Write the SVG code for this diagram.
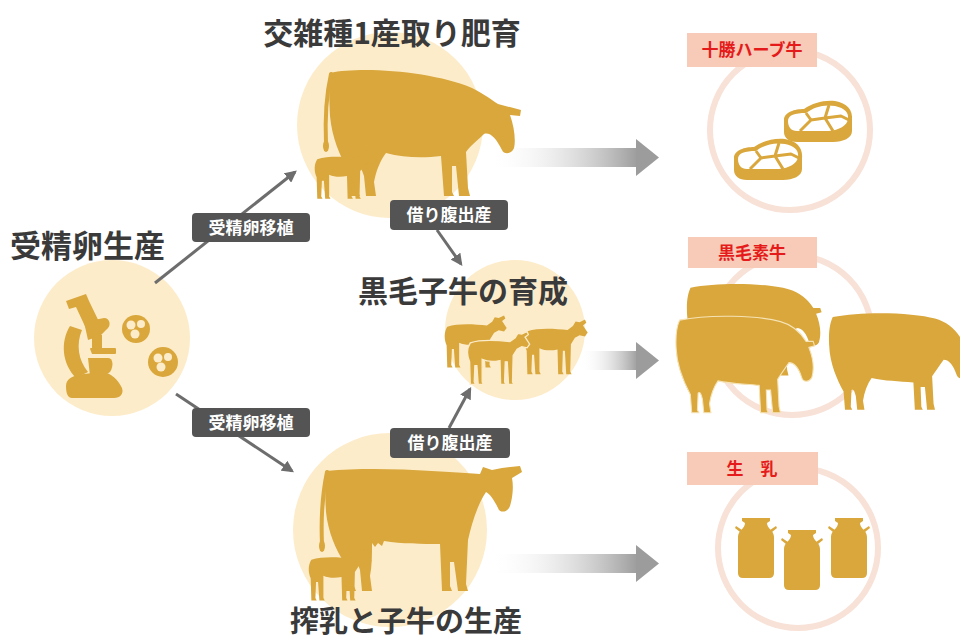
<svg xmlns="http://www.w3.org/2000/svg" width="960" height="642" viewBox="0 0 960 642">
  <style>
    .disc { fill: #fdecca; }
    .ring { fill: none; stroke: #f8e1d7; stroke-width: 6; }
    .gold { fill: #d9a73c; }
    .title { font-family: "Noto Sans CJK JP", "Noto Sans", sans-serif; font-weight: 700; fill: #3a3a3a; }
    .tag rect { fill: #545454; }
    .tag text { font-family: "Noto Sans CJK JP", "Noto Sans", sans-serif; font-weight: 700; font-size: 17px; fill: #ffffff; text-anchor: middle; }
    .prod rect { fill: #f7cbb7; }
    .prod text { font-family: "Noto Sans CJK JP", "Noto Sans", sans-serif; font-weight: 700; font-size: 17px; fill: #e51b1b; text-anchor: middle; }
    .link { stroke: #6d6d6d; stroke-width: 3; fill: none; }
    .tail { fill: none; stroke: #d9a73c; stroke-width: 4; stroke-linecap: round; }
  </style>
  <defs>
    <linearGradient id="shaft" x1="0" y1="0" x2="1" y2="0">
      <stop offset="0" stop-color="#ffffff" stop-opacity="0"/>
      <stop offset="1" stop-color="#9c9c9c"/>
    </linearGradient>
    <marker id="head" viewBox="0 0 10 10" refX="8" refY="5" markerWidth="4" markerHeight="4" orient="auto">
      <path d="M0 0 L10 5 L0 10 Z" fill="#6d6d6d"/>
    </marker>
    <!-- adult cow facing right, head level with the back, 200 x 130 -->
    <g id="cow">
      <path d="M6 7 C40 0 110 6 148 22 C160 28 168 34 174 38 L197 44 L196 50 L186 49 C190 60 192 74 190 82 C188 88 180 89 178 84 C172 72 166 66 160 68 C154 74 146 80 142 86 L144 122 L146 130 L135 130 L132 100 L128 100 L128 126 L130 130 L120 130 L117 90 C100 92 80 92 62 87 C56 95 52 105 50 116 L52 130 L42 130 L40 110 C38 104 37 102 35 103 L34 126 L36 130 L26 130 L24 104 C16 90 8 72 6 50 C5 32 5 18 6 7 Z"/>
      <path d="M7 8 C2 30 1 55 2 78" fill="none" stroke="inherit" stroke-width="4" stroke-linecap="round" style="stroke:#d9a73c"/>
      <ellipse cx="2" cy="80" rx="3" ry="6"/>
    </g>
    <!-- adult cow with head raised, 200 x 125 -->
    <g id="cowUp">
      <path d="M4 5 C60 0 120 6 158 8 L161 1 L170 4 L180 2 L198 0 L200 6 L190 12 C192 22 190 34 188 40 C186 46 178 48 176 42 C172 34 168 28 164 26 C156 38 150 56 146 74 L144 118 L146 125 L136 125 L132 96 L128 96 L128 120 L130 125 L120 125 L118 78 C100 78 80 78 62 75 L60 80 L56 77 L53 81 L50 77 C50 88 50 100 48 110 L50 125 L40 125 L38 104 C36 98 34 96 32 98 L32 120 L34 125 L24 125 L22 96 C14 84 6 66 4 46 C3 30 3 16 4 5 Z"/>
      <path d="M5 6 C0 30 -1 55 0 78" fill="none" style="stroke:#d9a73c" stroke-width="4" stroke-linecap="round"/>
      <ellipse cx="0" cy="80" rx="3" ry="6"/>
    </g>
    <!-- adult cow with lowered head, 200 x 130 -->
    <path id="cowLow" d="M8 8 C50 0 120 2 150 10 C166 14 178 24 186 36 L196 36 L198 42 L190 44 C196 58 198 72 194 84 C190 90 182 90 180 84 C176 72 170 64 162 64 C156 72 150 80 146 86 L148 122 L150 130 L139 130 L136 100 L130 100 L131 126 L133 130 L122 130 L120 94 C100 92 80 92 62 88 C56 96 52 106 50 118 L52 130 L42 130 L40 112 C38 104 36 102 34 104 L33 126 L35 130 L25 130 L23 106 C14 90 4 70 3 45 C2 28 4 16 8 8 Z"/>
    <!-- calf facing right, 100 x 90 -->
    <path id="calf" d="M8 22 C25 16 50 18 68 20 L76 14 L80 7 L86 8 L94 4 L96 9 L91 13 L98 24 L94 30 L86 28 L79 32 L73 42 L72 84 L74 88 L66 88 L64 52 L61 52 L60 84 L62 88 L54 88 L53 50 C44 52 34 52 26 48 L26 84 L28 88 L20 88 L18 58 L15 58 L14 84 L16 88 L8 88 L7 52 C3 42 3 30 8 22 Z"/>
    <!-- milk can, 38 x 60 -->
    <g id="can">
      <path d="M5 0 H33 V3 L30 5 C30 11 37 12 37 19 V55 Q37 60 32 60 H6 Q1 60 1 55 V19 C1 12 8 11 8 5 L5 3 Z"/>
      <path d="M3 14 L-2 10 L-1 8 L5 12 Z M35 14 L40 10 L39 8 L33 12 Z"/>
    </g>
    <!-- steak, 70 x 42 -->
    <g id="steak">
      <path class="gold" d="M1 20 C1 12 12 9 21 9 C30 3 40 0 52 1 C64 3 70 10 69 20 V31 C69 38 60 42 50 42 H14 C6 42 1 38 1 32 Z"/>
      <path d="M5 21 C5 15 12 13 23 13 C31 7 41 4 52 6 C62 8 66 13 65 19 C64 26 56 30 46 31 H14 C8 31 5 27 5 21 Z" fill="#ffffff"/>
      <path d="M23 13 L28 20 L17 31 M28 20 L42 18 L50 31 M42 18 L46 5 M42 18 L58 16 L66 20" fill="none" stroke="#d9a73c" stroke-width="3" stroke-linejoin="round"/>
    </g>
  </defs>

  <rect width="960" height="642" fill="#ffffff"/>

  <!-- product flow arrows -->
  <g id="flow">
    <rect x="488" y="148" width="150" height="19" fill="url(#shaft)"/>
    <polygon points="636,139 659,157.5 636,176" fill="#9c9c9c"/>
    <rect x="580" y="351" width="58" height="19" fill="url(#shaft)"/>
    <polygon points="636,342 659,360.5 636,379" fill="#9c9c9c"/>
    <rect x="488" y="554" width="150" height="19" fill="url(#shaft)"/>
    <polygon points="636,545 659,563.5 636,582" fill="#9c9c9c"/>
  </g>

  <!-- embryo production -->
  <g id="embryo">
    <circle class="disc" cx="112" cy="338" r="78"/>
    <g class="gold">
      <!-- base -->
      <path d="M66 386 C66 378 74 375 84 374 L102 372 C112 373 118 380 122 388 C124 394 120 398 114 398 H72 C68 398 66 394 66 386 Z"/>
      <!-- arm -->
      <path d="M70 326 L82 330 C76 344 78 360 88 372 L76 378 C62 364 60 342 70 326 Z"/>
      <!-- eyepiece tube -->
      <polygon points="66,301 86,294 89,301 103,330 90,337 76,307 69,309"/>
      <!-- focus block and knob -->
      <path d="M84 322 L104 318 C110 318 112 326 106 330 L100 336 L88 340 Z"/>
      <rect x="92" y="335" width="10" height="13"/>
      <!-- stage -->
      <rect x="90" y="348" width="26" height="6" rx="1"/>
      <!-- condenser -->
      <path d="M88 358 H108 C113 358 114 366 110 372 L104 376 H90 Z"/>
    </g>
    <polygon points="80,343 87,341 92,354 85,357" fill="#fdecca"/>
    <circle class="gold" cx="136" cy="329" r="14"/>
    <g fill="#fdecca">
      <circle cx="131" cy="325" r="4.5"/><circle cx="141" cy="324" r="4"/><circle cx="135" cy="334" r="4.5"/>
    </g>
    <circle class="gold" cx="163" cy="362" r="15"/>
    <g fill="#fdecca">
      <circle cx="158" cy="358" r="4.5"/><circle cx="168" cy="357" r="4"/><circle cx="161" cy="367" r="4.5"/>
    </g>
    <text class="title" x="10" y="257" font-size="31">受精卵生産</text>
  </g>

  <!-- F1 fattening -->
  <g id="f1">
    <circle class="disc" cx="390" cy="125" r="93"/>
    <use href="#cow" class="gold" transform="translate(324,66)"/>
    <use href="#calf" class="gold" transform="translate(312,146) scale(0.66,0.6)"/>
    <text class="title" x="392" y="44" font-size="30" text-anchor="middle">交雑種1産取り肥育</text>
  </g>

  <!-- Wagyu calf rearing -->
  <g id="rearing">
    <circle class="disc" cx="515" cy="330" r="70"/>
    <use href="#calf" class="gold" transform="translate(442,313) scale(0.66,0.62)"/>
    <use href="#calf" class="gold" transform="translate(522,317) scale(0.67,0.65)"/>
    <use href="#calf" class="gold" transform="translate(465,329) scale(0.66,0.63)" stroke="#fdecca" stroke-width="2"/>
    <text class="title" x="463" y="302" font-size="30" text-anchor="middle">黒毛子牛の育成</text>
  </g>

  <!-- milking and calf production -->
  <g id="dairy">
    <circle class="disc" cx="390" cy="530" r="97"/>
    <use href="#cowUp" class="gold" transform="translate(322,466)"/>
    <use href="#calf" class="gold" transform="translate(306,546) scale(0.67,0.62)"/>
    <text class="title" x="406" y="632" font-size="29" text-anchor="middle">搾乳と子牛の生産</text>
  </g>

  <!-- connectors -->
  <g id="connectors">
    <line class="link" x1="155" y1="283" x2="295" y2="172" marker-end="url(#head)"/>
    <line class="link" x1="176" y1="394" x2="292" y2="471" marker-end="url(#head)"/>
    <line class="link" x1="437" y1="230" x2="461" y2="264" marker-end="url(#head)"/>
    <line class="link" x1="449" y1="428" x2="470" y2="389" marker-end="url(#head)"/>
  </g>

  <!-- transfer labels -->
  <g id="label-transfer-1" class="tag">
    <rect x="192" y="213" width="118" height="29" rx="4"/>
    <text x="251" y="233.5">受精卵移植</text>
  </g>
  <g id="label-transfer-2" class="tag">
    <rect x="192" y="408" width="118" height="29" rx="4"/>
    <text x="251" y="428.5">受精卵移植</text>
  </g>
  <g id="label-surrogate-1" class="tag">
    <rect x="390" y="200" width="118" height="30" rx="4"/>
    <text x="449" y="221">借り腹出産</text>
  </g>
  <g id="label-surrogate-2" class="tag">
    <rect x="390" y="428" width="120" height="30" rx="4"/>
    <text x="450" y="449">借り腹出産</text>
  </g>

  <!-- products -->
  <g id="herb-beef">
    <circle class="ring" cx="790" cy="130" r="80"/>
    <use href="#steak" transform="translate(783,100)"/>
    <use href="#steak" transform="translate(733,138)"/>
    <g class="prod">
      <rect x="687" y="33" width="130" height="34"/>
      <text x="752" y="56">十勝ハーブ牛</text>
    </g>
  </g>

  <g id="wagyu-stock">
    <circle class="ring" cx="792" cy="335" r="80"/>
    <use href="#cowLow" class="gold" transform="translate(685,282) scale(0.69,0.72)"/>
    <use href="#cowLow" class="gold" transform="translate(674,314) scale(0.71,0.76)" stroke="#f6e3b5" stroke-width="1.5"/>
    <use href="#cowLow" class="gold" transform="translate(827,311) scale(0.72,0.76)"/>
    <g class="prod">
      <rect x="688" y="237" width="129" height="31"/>
      <text x="752" y="259">黒毛素牛</text>
    </g>
  </g>

  <g id="raw-milk">
    <circle class="ring" cx="798" cy="548" r="80"/>
    <use href="#can" class="gold" transform="translate(737,518)"/>
    <use href="#can" class="gold" transform="translate(783,530)"/>
    <use href="#can" class="gold" transform="translate(830,518)"/>
    <g class="prod">
      <rect x="687" y="452" width="131" height="33"/>
      <text x="752" y="475">生　乳</text>
    </g>
  </g>
</svg>
